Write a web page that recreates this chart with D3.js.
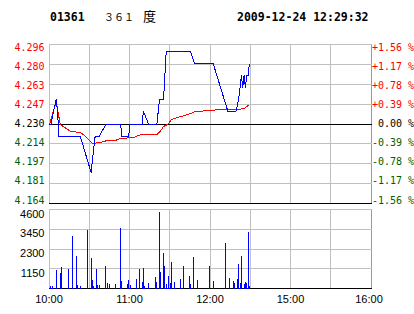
<!DOCTYPE html>
<html>
<head>
<meta charset="utf-8">
<script src="https://d3js.org/d3.v7.min.js"></script>
<style>
  body { margin: 0; background: #fff; }
  svg { display: block; }
</style>
</head>
<body>
<svg id="chart" width="414" height="314"></svg>
<script>
const stockCode = "01361";
const stockName = "３６１度";
const stamp = "2009-12-24 12:29:32";
const prevClose = 4.230;

const priceLabels = ["4.296", "4.280", "4.263", "4.247", "4.230", "4.214", "4.197", "4.181", "4.164"];
const pctLabels = ["+1.56 %", "+1.17 %", "+0.78 %", "+0.39 %", " 0.00 %", "-0.39 %", "-0.78 %", "-1.17 %", "-1.56 %"];
const volLabels = ["4600", "3450", "2300", "1150"];
const timeLabels = ["10:00", "11:00", "12:00", "15:00", "16:00"];

// price line
const priceTime = ["10:00", "10:01", "10:03", "10:05", "10:06", "10:07", "10:23", "10:31", "10:32", "10:34",
    "10:37", "10:42", "10:53", "10:54", "10:59", "11:00", "11:09", "11:10", "11:14", "11:20",
    "11:22", "11:25", "11:26", "11:27", "11:45", "11:48", "12:02", "12:13", "12:19", "12:21",
    "12:22", "12:23", "12:24", "12:25", "12:26", "12:27", "12:28", "12:29"];
const priceValue = [4.23, 4.23, 4.24, 4.25, 4.24, 4.22, 4.22, 4.19, 4.20, 4.22,
    4.22, 4.23, 4.23, 4.22, 4.22, 4.23, 4.23, 4.24, 4.23, 4.23,
    4.25, 4.25, 4.27, 4.29, 4.29, 4.28, 4.28, 4.24, 4.24, 4.25,
    4.26, 4.27, 4.26, 4.27, 4.26, 4.27, 4.27, 4.28];

// average price line
const avgTime = ["10:00", "10:05", "10:08", "10:16", "10:23", "10:27", "10:32", "10:38", "10:43", "10:49",
    "10:53", "11:03", "11:08", "11:20", "11:23", "11:25", "11:28", "11:31", "11:35", "11:41",
    "11:49", "12:00", "12:07", "12:20", "12:25", "12:29"];
const avgValue = [4.230, 4.249, 4.230, 4.224, 4.223, 4.220, 4.214, 4.215, 4.216, 4.216,
    4.218, 4.219, 4.221, 4.221, 4.225, 4.228, 4.230, 4.234, 4.235, 4.237,
    4.240, 4.241, 4.242, 4.242, 4.243, 4.246];

// volume bars
const volTime = ["10:01", "10:02", "10:05", "10:08", "10:09", "10:14", "10:17", "10:20", "10:21", "10:23",
    "10:28", "10:31", "10:32", "10:33", "10:35", "10:36", "10:37", "10:42", "10:43", "10:45",
    "10:49", "10:53", "10:54", "10:58", "10:59", "11:00", "11:05", "11:07", "11:09", "11:10",
    "11:11", "11:14", "11:19", "11:20", "11:22", "11:23", "11:25", "11:26", "11:27", "11:29",
    "11:30", "11:31", "11:33", "11:38", "11:40", "11:44", "11:45", "11:47", "11:50", "11:59",
    "12:02", "12:11", "12:14", "12:17", "12:18", "12:20", "12:21", "12:22", "12:23", "12:25",
    "12:26", "12:27", "12:28", "12:29"];
const volValue = [130, 130, 1065, 910, 1240, 1120, 3045, 1880, 190, 130,
    3390, 1765, 480, 130, 1120, 190, 190, 1300, 300, 250,
    250, 3510, 420, 250, 480, 190, 540, 1120, 370, 1180,
    130, 300, 650, 370, 4440, 960, 2050, 1300, 250, 720,
    300, 1530, 370, 540, 1300, 720, 250, 1820, 480, 1300,
    420, 2640, 600, 420, 300, 540, 1400, 300, 1880, 250,
    370, 300, 3280, 130];

// trading minutes: 10:00-12:30 then 14:30-16:00
function tradeMin(t) {
    const [h, m] = t.split(":").map(Number);
    const total = h * 60 + m;
    if (total <= 12 * 60 + 30) return total - 600;
    return 150 + (total - (14 * 60 + 30));
}

const svg = d3.select("#chart");
const left = 49, right = 371;
const px = v => Math.round(v - 0.5) + 0.5;

const x = d3.scaleLinear().domain([0, 240]).range([left, right]);
const y = d3.scaleLinear().domain([prevClose - 0.066, prevClose + 0.066]).range([203.5, 44.5]);
const yLabel = d3.scaleLinear().domain([0, priceLabels.length - 1]).range([47.5, 200]);
const yVol = d3.scaleLinear().domain([0, 4600]).range([288.5, 209.5]);

const grid = "#c0c0c0";
const red = "#ff0000";
const green = "#006000";

// header
svg.append("text")
    .attr("x", 50).attr("y", 20.5)
    .attr("font-family", "DejaVu Sans Mono").attr("font-weight", "bold").attr("font-size", "11.5px")
    .text(stockCode);
// digits are narrow, the last glyph is bigger
const nameX = [104, 114, 124, 143];
svg.append("text")
    .attr("y", 20.5)
    .attr("font-family", "Noto Sans CJK SC")
    .selectAll("tspan").data(Array.from(stockName)).join("tspan")
    .attr("x", (d, i) => nameX[i])
    .attr("font-size", (d, i) => i < 3 ? "10px" : "13px")
    .text(d => d);
svg.append("text")
    .attr("x", 237).attr("y", 20.5)
    .attr("font-family", "DejaVu Sans Mono").attr("font-weight", "bold").attr("font-size", "11.5px")
    .text(stamp);

// price pane grid
const priceTicks = d3.range(priceLabels.length).map(i => prevClose + 0.066 - i * 0.0165);
const timeTicks = d3.range(0, 241, 30);

svg.append("g").selectAll("line").data(timeTicks).join("line")
    .attr("x1", d => px(x(d))).attr("x2", d => px(x(d)))
    .attr("y1", 44.5).attr("y2", 203.5)
    .attr("stroke", (d, i) => i === timeTicks.length - 1 ? "#999" : grid);
svg.append("g").selectAll("line").data(priceTicks).join("line")
    .attr("x1", left).attr("x2", right + 1)
    .attr("y1", d => px(y(d))).attr("y2", d => px(y(d)))
    .attr("stroke", (d, i) => (i === 4 || i === 8) ? "#000" : grid);

// volume pane grid
const volTicks = [4600, 3450, 2300, 1150, 0];
svg.append("g").selectAll("line").data(timeTicks).join("line")
    .attr("x1", d => px(x(d))).attr("x2", d => px(x(d)))
    .attr("y1", 209.5).attr("y2", 288.5)
    .attr("stroke", (d, i) => i === timeTicks.length - 1 ? "#999" : grid);
svg.append("g").selectAll("line").data(volTicks).join("line")
    .attr("x1", left).attr("x2", right + 1)
    .attr("y1", d => px(yVol(d))).attr("y2", d => px(yVol(d)))
    .attr("stroke", d => d === 0 ? "#000" : grid);

// left and right labels
const labelColor = i => i < 4 ? red : (i === 4 ? "#000" : green);
svg.append("g").selectAll("text").data(priceLabels).join("text")
    .attr("x", 44.5).attr("y", (d, i) => yLabel(i) + 3.5)
    .attr("text-anchor", "end")
    .attr("font-family", "DejaVu Sans Mono").attr("font-size", "10px")
    .attr("fill", (d, i) => labelColor(i))
    .text(d => d);
svg.append("g").selectAll("text").data(pctLabels).join("text")
    .attr("x", 372).attr("y", (d, i) => yLabel(i) + 3.5)
    .attr("font-family", "DejaVu Sans Mono").attr("font-size", "10px")
    .attr("fill", (d, i) => labelColor(i))
    .style("white-space", "pre")
    .text(d => d);

svg.append("g").selectAll("text").data(volLabels).join("text")
    .attr("x", 44.5).attr("y", d => yVol(+d) + 8)
    .attr("text-anchor", "end")
    .attr("font-family", "Liberation Sans").attr("font-size", "11px")
    .text(d => d);

svg.append("g").selectAll("text").data(timeLabels).join("text")
    .attr("x", d => Math.min(x(tradeMin(d)), 369))
    .attr("y", 302.5)
    .attr("text-anchor", "middle")
    .attr("font-family", "Liberation Sans").attr("font-size", "11px")
    .text(d => d);

// volume bars
svg.append("g").selectAll("rect").data(volTime).join("rect")
    .attr("x", d => Math.round(x(tradeMin(d))))
    .attr("width", 1)
    .attr("y", (d, i) => Math.round(yVol(volValue[i])))
    .attr("height", (d, i) => Math.round(yVol(0)) - Math.round(yVol(volValue[i])))
    .attr("fill", "#0000ff");

// lines
const line = d3.line()
    .x(d => x(tradeMin(d[0])) + 0.5)
    .y(d => px(y(d[1])));

svg.append("path")
    .datum(avgTime.map((t, i) => [t, avgValue[i]]))
    .attr("d", line)
    .attr("fill", "none")
    .attr("stroke", red)
    .attr("stroke-width", 1)
    .attr("shape-rendering", "crispEdges");

svg.append("path")
    .datum(priceTime.map((t, i) => [t, priceValue[i]]))
    .attr("d", line)
    .attr("fill", "none")
    .attr("stroke", "#0000ff")
    .attr("stroke-width", 1)
    .attr("shape-rendering", "crispEdges");
</script>
</body>
</html>
